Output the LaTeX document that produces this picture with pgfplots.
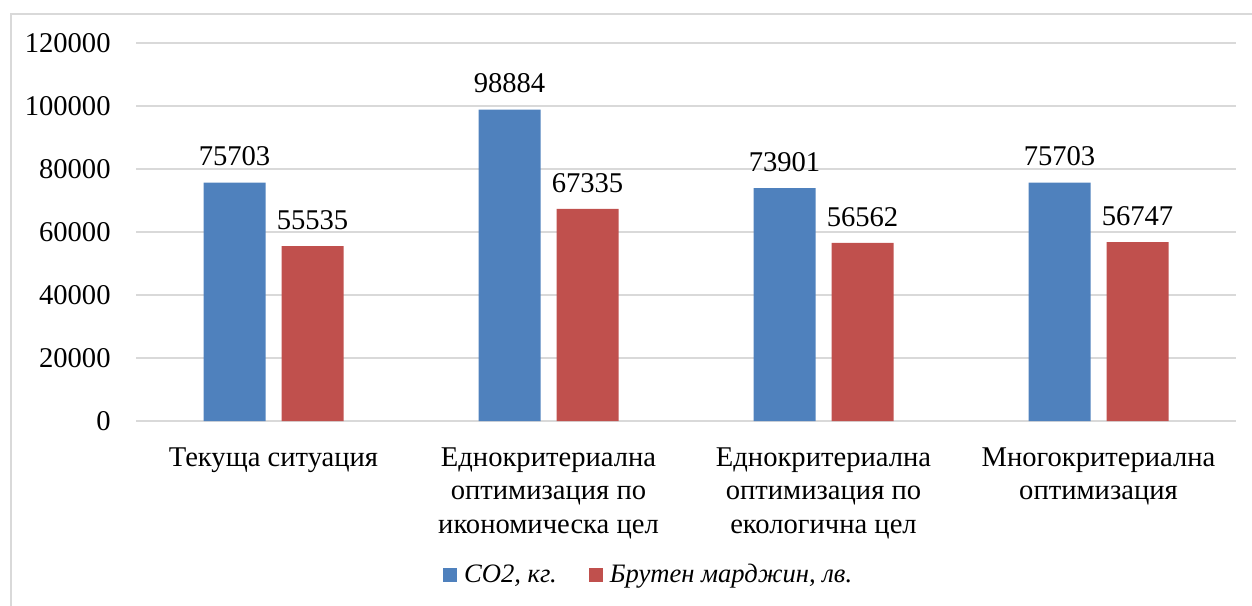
\documentclass[border=0pt]{standalone}
\usepackage{pgfplots}
\pgfplotsset{compat=1.18}
\usepackage{fontspec}
\setmainfont{Liberation Serif}
\newfontfamily\lser{Liberation Serif}
\definecolor{cblue}{HTML}{4F81BD}
\definecolor{cred}{HTML}{C0504D}
\definecolor{cgrid}{HTML}{D9D9D9}
\begin{document}
\begin{tikzpicture}[font=\lser\fontsize{14.3}{16.75}\selectfont]
\useasboundingbox (0,0) rectangle (626pt,302.5pt);
\draw[cgrid, line width=1pt] (5.5pt,-2pt) -- (5.5pt,295.5pt) -- (630pt,295.5pt);
\begin{axis}[
  at={(68pt,92pt)}, anchor=south west,
  width=550pt, height=189pt, scale only axis,
  ybar=8pt, bar width=31pt,
  xmin=-0.5, xmax=3.5, ymin=0, ymax=120000,
  xtick=data, ytick={0,20000,40000,60000,80000,100000,120000},
  scaled y ticks=false,
  yticklabel={\pgfmathprintnumber[fixed,precision=0,1000 sep={},assume math mode=true]{\tick}},
  xticklabels={{Текуща ситуация},{Еднокритериална\\оптимизация по\\икономическа цел},{Еднокритериална\\оптимизация по\\екологична цел},{Многокритериална\\оптимизация}},
  xticklabel style={align=center, anchor=north, inner sep=0pt, yshift=-13pt},
  yticklabel style={anchor=east, inner sep=0pt, xshift=-12.5pt},
  major tick length=0pt,
  axis x line*=bottom, axis y line*=left,
  x axis line style={draw=cgrid, line width=0.75pt, -},
  y axis line style={draw=none},
  ymajorgrids, grid style={draw=cgrid, line width=0.75pt},
  nodes near coords={\pgfmathprintnumber[fixed,precision=0,1000 sep={},assume math mode=true]{\pgfplotspointmeta}},
  nodes near coords style={anchor=south, inner sep=0pt, yshift=8pt, text=black},
  legend style={draw=none, at={(0.467,-0.407)}, anchor=center, legend columns=2,
    font=\lser\fontsize{13.3}{15}\selectfont\itshape,
    /tikz/every even column/.append style={column sep=14pt}},
  legend image code/.code={\fill[#1] (0pt,-3.5pt) rectangle (7pt,3.5pt); \path (8.5pt,0pt);},
]
\addplot[fill=cblue, draw=none] coordinates {(0,75703) (1,98884) (2,73901) (3,75703)};
\addplot[fill=cred, draw=none] coordinates {(0,55535) (1,67335) (2,56562) (3,56747)};
\legend{{СО2, кг.},{Брутен марджин, лв.}}
\end{axis}
\end{tikzpicture}
\end{document}
